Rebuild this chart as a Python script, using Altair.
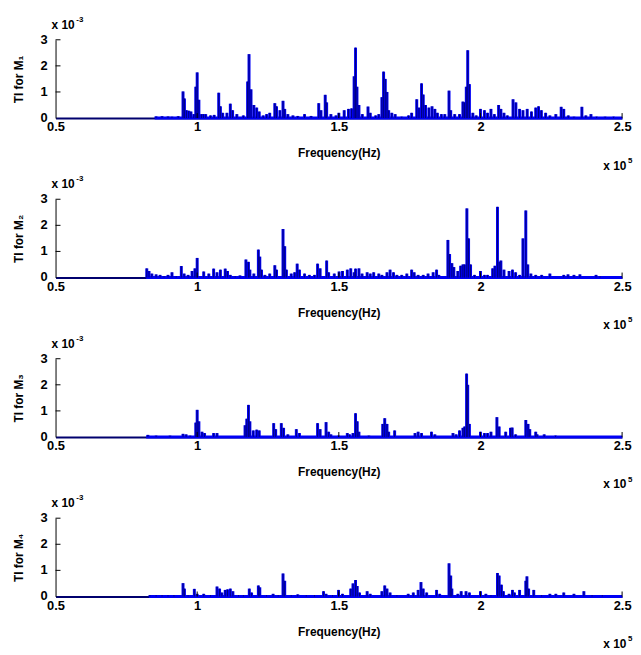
import altair as alt
import pandas as pd

# Frequency in units of 1e5 Hz, TI in units of 1e-3
m1_freq = [0.855, 0.876, 0.897, 0.911, 0.933, 0.950, 0.955, 0.962, 0.970, 0.978, 0.988,
           0.995, 1.000, 1.006, 1.015, 1.022, 1.030, 1.047, 1.060, 1.076, 1.082, 1.090,
           1.105, 1.117, 1.125, 1.140, 1.163, 1.178, 1.183, 1.190, 1.200, 1.210, 1.219,
           1.233, 1.245, 1.256, 1.274, 1.280, 1.292, 1.303, 1.309, 1.320, 1.338, 1.355,
           1.379, 1.402, 1.429, 1.437, 1.452, 1.457, 1.472, 1.490, 1.500, 1.519, 1.534,
           1.545, 1.554, 1.559, 1.564, 1.571, 1.583, 1.603, 1.611, 1.630, 1.641, 1.652,
           1.658, 1.664, 1.670, 1.676, 1.687, 1.699, 1.722, 1.746, 1.757, 1.775, 1.783,
           1.792, 1.798, 1.806, 1.818, 1.829, 1.839, 1.848, 1.862, 1.874, 1.889, 1.895,
           1.909, 1.926, 1.938, 1.944, 1.950, 1.955, 1.961, 1.973, 1.985, 2.000, 2.014,
           2.025, 2.037, 2.049, 2.064, 2.072, 2.083, 2.095, 2.115, 2.125, 2.138, 2.150,
           2.165, 2.180, 2.195, 2.205, 2.215, 2.230, 2.245, 2.266, 2.285, 2.294, 2.310,
           2.330, 2.358, 2.372, 2.390, 2.410, 2.440, 2.470]
m1_ti = [0.06, 0.07, 0.06, 0.05, 0.07, 1.02, 0.75, 0.30, 0.28, 0.25, 0.15,
         1.20, 1.75, 0.70, 0.15, 0.15, 0.15, 0.10, 0.12, 0.97, 0.45, 0.20,
         0.20, 0.55, 0.30, 0.15, 0.10, 1.40, 2.45, 1.10, 0.50, 0.40, 0.25,
         0.10, 0.15, 0.20, 0.57, 0.45, 0.30, 0.66, 0.35, 0.15, 0.10, 0.08,
         0.15, 0.08, 0.57, 0.30, 0.89, 0.60, 0.15, 0.10, 0.20, 0.30, 0.35,
         0.37, 1.60, 2.70, 1.20, 0.50, 0.15, 0.44, 0.20, 0.10, 0.15, 0.80,
         1.78, 1.50, 1.00, 0.30, 0.20, 0.15, 0.05, 0.10, 0.20, 0.72, 0.40,
         1.33, 0.90, 0.50, 0.40, 0.45, 0.35, 0.20, 0.15, 0.15, 1.05, 0.30,
         0.15, 0.15, 0.63, 0.60, 1.20, 2.60, 1.30, 0.20, 0.10, 0.35, 0.30,
         0.20, 0.35, 0.15, 0.50, 0.35, 0.20, 0.10, 0.72, 0.60, 0.35, 0.30,
         0.35, 0.25, 0.40, 0.45, 0.30, 0.20, 0.10, 0.15, 0.43, 0.35, 0.10,
         0.05, 0.43, 0.10, 0.15, 0.05, 0.05, 0.05]

m2_freq = [0.822, 0.830, 0.840, 0.855, 0.869, 0.883, 0.897, 0.911, 0.926, 0.944, 0.954,
           0.968, 0.982, 0.992, 1.000, 1.023, 1.041, 1.058, 1.070, 1.082, 1.099, 1.107,
           1.117, 1.134, 1.151, 1.172, 1.181, 1.186, 1.200, 1.216, 1.221, 1.227, 1.239,
           1.256, 1.274, 1.280, 1.303, 1.309, 1.315, 1.332, 1.344, 1.353, 1.361, 1.379,
           1.396, 1.414, 1.425, 1.434, 1.457, 1.464, 1.484, 1.501, 1.513, 1.530, 1.542,
           1.554, 1.559, 1.571, 1.582, 1.600, 1.611, 1.623, 1.641, 1.652, 1.670, 1.681,
           1.693, 1.705, 1.722, 1.740, 1.757, 1.766, 1.780, 1.798, 1.815, 1.833, 1.845,
           1.853, 1.885, 1.891, 1.899, 1.906, 1.920, 1.930, 1.938, 1.944, 1.952, 1.958,
           1.965, 1.979, 2.000, 2.014, 2.025, 2.043, 2.051, 2.060, 2.066, 2.072, 2.083,
           2.101, 2.113, 2.124, 2.138, 2.150, 2.160, 2.167, 2.178, 2.195, 2.216, 2.245,
           2.294, 2.309, 2.330, 2.351, 2.408, 2.422]
m2_ti = [0.35, 0.25, 0.15, 0.12, 0.10, 0.05, 0.10, 0.20, 0.05, 0.44, 0.15,
         0.10, 0.25, 0.35, 0.75, 0.23, 0.15, 0.34, 0.20, 0.30, 0.34, 0.25,
         0.10, 0.05, 0.08, 0.69, 0.60, 0.30, 0.15, 1.07, 0.80, 0.30, 0.10,
         0.15, 0.47, 0.30, 1.86, 1.20, 0.30, 0.15, 0.20, 0.53, 0.30, 0.15,
         0.10, 0.10, 0.53, 0.35, 0.65, 0.20, 0.15, 0.23, 0.25, 0.30, 0.35,
         0.20, 0.34, 0.35, 0.15, 0.20, 0.15, 0.20, 0.15, 0.10, 0.20, 0.30,
         0.20, 0.10, 0.10, 0.15, 0.30, 0.20, 0.10, 0.10, 0.15, 0.20, 0.30,
         0.10, 1.44, 0.90, 0.55, 0.40, 0.25, 0.45, 0.50, 0.50, 2.65, 1.50,
         0.50, 0.10, 0.25, 0.10, 0.10, 0.35, 0.45, 2.71, 0.60, 0.65, 0.30,
         0.25, 0.30, 0.20, 0.10, 1.50, 2.57, 0.50, 0.15, 0.10, 0.10, 0.15,
         0.10, 0.12, 0.10, 0.12, 0.10, 0.05]

m3_freq = [0.826, 0.855, 0.904, 0.950, 0.961, 0.975, 0.995, 1.000, 1.006, 1.017, 1.026,
           1.058, 1.070, 1.169, 1.175, 1.181, 1.186, 1.198, 1.210, 1.219, 1.270, 1.277,
           1.297, 1.305, 1.320, 1.350, 1.361, 1.425, 1.434, 1.455, 1.464, 1.472, 1.499,
           1.530, 1.538, 1.550, 1.559, 1.565, 1.571, 1.606, 1.655, 1.662, 1.670, 1.676,
           1.697, 1.769, 1.780, 1.792, 1.827, 1.839, 1.903, 1.914, 1.926, 1.938, 1.944,
           1.951, 1.955, 1.961, 2.000, 2.014, 2.025, 2.037, 2.058, 2.066, 2.089, 2.106,
           2.112, 2.124, 2.160, 2.168, 2.174, 2.195, 2.200, 2.225, 2.265]
m3_ti = [0.08, 0.05, 0.05, 0.12, 0.10, 0.05, 0.55, 1.04, 0.60, 0.20, 0.15,
         0.15, 0.15, 0.45, 0.70, 1.23, 0.60, 0.25, 0.28, 0.25, 0.53, 0.30,
         0.53, 0.35, 0.10, 0.30, 0.15, 0.53, 0.30, 0.57, 0.20, 0.10, 0.05,
         0.15, 0.10, 0.15, 0.91, 0.60, 0.20, 0.05, 0.50, 0.72, 0.50, 0.20,
         0.25, 0.15, 0.20, 0.15, 0.20, 0.10, 0.15, 0.10, 0.25, 0.35, 0.40,
         2.43, 2.00, 0.50, 0.20, 0.15, 0.15, 0.20, 0.76, 0.40, 0.20, 0.35,
         0.36, 0.10, 0.65, 0.50, 0.30, 0.20, 0.10, 0.10, 0.05]

m4_freq = [0.833, 0.855, 0.876, 0.897, 0.918, 0.950, 0.955, 0.968, 0.990, 1.000, 1.023,
           1.047, 1.070, 1.079, 1.087, 1.099, 1.107, 1.117, 1.126, 1.146, 1.163, 1.184,
           1.192, 1.216, 1.221, 1.245, 1.268, 1.286, 1.303, 1.309, 1.332, 1.355, 1.385,
           1.414, 1.446, 1.455, 1.478, 1.499, 1.513, 1.542, 1.550, 1.559, 1.565, 1.573,
           1.600, 1.611, 1.652, 1.662, 1.670, 1.681, 1.705, 1.745, 1.763, 1.780, 1.790,
           1.798, 1.810, 1.845, 1.856, 1.889, 1.895, 1.899, 1.920, 1.932, 1.949, 1.961,
           2.000, 2.019, 2.037, 2.060, 2.066, 2.074, 2.081, 2.101, 2.113, 2.120, 2.138,
           2.160, 2.164, 2.170, 2.188, 2.216, 2.245, 2.266, 2.294, 2.330, 2.365, 2.394,
           2.430]
m4_ti = [0.05, 0.05, 0.05, 0.05, 0.05, 0.51, 0.30, 0.05, 0.29, 0.10, 0.10,
         0.05, 0.38, 0.30, 0.15, 0.25, 0.27, 0.30, 0.20, 0.05, 0.05, 0.30,
         0.15, 0.42, 0.35, 0.05, 0.10, 0.05, 0.88, 0.60, 0.05, 0.08, 0.05,
         0.05, 0.20, 0.10, 0.05, 0.25, 0.10, 0.30, 0.50, 0.63, 0.40, 0.15,
         0.20, 0.10, 0.20, 0.42, 0.30, 0.15, 0.05, 0.10, 0.15, 0.25, 0.55,
         0.30, 0.15, 0.25, 0.10, 1.27, 0.80, 0.30, 0.10, 0.20, 0.20, 0.15,
         0.20, 0.10, 0.05, 0.90, 0.80, 0.45, 0.20, 0.10, 0.25, 0.15, 0.25,
         0.60, 0.77, 0.30, 0.25, 0.05, 0.10, 0.10, 0.15, 0.10, 0.20, 0.05,
         0.05]

series_freq = [m1_freq, m2_freq, m3_freq, m4_freq]
series_ti = [m1_ti, m2_ti, m3_ti, m4_ti]
series_titles = ["TI for M\u2081", "TI for M\u2082", "TI for M\u2083", "TI for M\u2084"]
floor_start = [0.85, 0.82, 0.82, 0.83]
floor_end = [2.5, 2.5, 2.5, 2.5]
x_ticks = [0.5, 1, 1.5, 2, 2.5]
x_inner_ticks = [1, 1.5, 2, 2.5]
y_ticks = [0, 1, 2, 3]
y_tick_labels = ["0", "1", "2", "3"]
y_inner_ticks = [1, 2, 3]
x_title = "Frequency(Hz)"
y_mult = ["x 10", "-3"]
x_mult = ["x 10", "5"]

W, H = 572, 79
FONT = "Liberation Sans"
BLUE = "#0000f5"
NAVY = "#00006e"

XSCALE = alt.Scale(domain=[0.5, 2.5], nice=False, zero=False)
YSCALE = alt.Scale(domain=[0, 3], nice=False)


def panel(i):
    df = pd.DataFrame({"f": series_freq[i], "v": series_ti[i]})
    xs = alt.X("f:Q", scale=XSCALE,
               axis=alt.Axis(values=x_ticks, format="~g", title=x_title, ticks=False,
                             grid=False, labelFlush=False, labelOverlap=False,
                             labelPadding=3, titlePadding=14, domainColor=NAVY,
                             domainWidth=2))
    ys = alt.Y("v:Q", scale=YSCALE,
               axis=alt.Axis(title=series_titles[i], labels=False, ticks=False,
                             grid=False, titlePadding=30,
                             domainColor="#000000", domainWidth=1))
    floor = alt.Chart(pd.DataFrame({"f": [floor_start[i]], "f2": [floor_end[i]],
                                    "v": [0.0]})).mark_rule(
        color=BLUE, strokeWidth=3).encode(x=xs, x2="f2:Q", y=ys)
    spikes = alt.Chart(df).mark_rule(color=BLUE, strokeWidth=3).encode(
        x=xs, y=ys, y2=alt.datum(0))
    cores = alt.Chart(df).mark_rule(color=NAVY, strokeWidth=0.9).encode(
        x=xs, y=ys, y2=alt.datum(0))
    ytk = alt.Chart(pd.DataFrame({"v": y_inner_ticks})).mark_rule(
        color="#000000", strokeWidth=1).encode(y=ys, x=alt.value(0), x2=alt.value(5))
    ylab = alt.Chart(pd.DataFrame({"v": y_ticks, "lab": y_tick_labels})).mark_text(
        align="right", baseline="middle", font=FONT, fontSize=13, fontWeight="bold",
        color="#000000").encode(y=ys, text="lab:N", x=alt.value(-8))
    xtk = alt.Chart(pd.DataFrame({"f": x_inner_ticks})).mark_rule(
        color="#000000", strokeWidth=1).encode(x=xs, y=alt.value(H), y2=alt.value(H - 5))
    t1 = alt.Chart(pd.DataFrame({"t": [y_mult[0]]})).mark_text(
        align="left", baseline="alphabetic", font=FONT, fontSize=12, fontWeight="bold",
        color="#000000").encode(text="t:N", x=alt.value(-4), y=alt.value(-11))
    t2 = alt.Chart(pd.DataFrame({"t": [y_mult[1]]})).mark_text(
        align="left", baseline="alphabetic", font=FONT, fontSize=8, fontWeight="bold",
        color="#000000").encode(text="t:N", x=alt.value(21), y=alt.value(-18))
    t3 = alt.Chart(pd.DataFrame({"t": [x_mult[0]]})).mark_text(
        align="left", baseline="alphabetic", font=FONT, fontSize=12, fontWeight="bold",
        color="#000000").encode(text="t:N", x=alt.value(W - 19), y=alt.value(H + 52))
    t4 = alt.Chart(pd.DataFrame({"t": [x_mult[1]]})).mark_text(
        align="left", baseline="alphabetic", font=FONT, fontSize=8, fontWeight="bold",
        color="#000000").encode(text="t:N", x=alt.value(W + 6), y=alt.value(H + 45))
    return alt.layer(floor, spikes, cores, ytk, ylab, xtk, t1, t2, t3, t4).properties(
        width=W, height=H)


chart = alt.vconcat(*[panel(i) for i in range(4)], spacing=82, bounds="flush").properties(
    padding={"left": 5, "top": 5, "right": 0, "bottom": 0}
).configure_view(stroke=None).configure_axis(
    labelFont=FONT, titleFont=FONT, labelFontSize=13, labelFontWeight="bold",
    titleFontSize=12, titleFontWeight="bold", labelColor="#000000", titleColor="#000000"
)

chart.save("out.html", embed_options={"renderer": "svg", "actions": False})
